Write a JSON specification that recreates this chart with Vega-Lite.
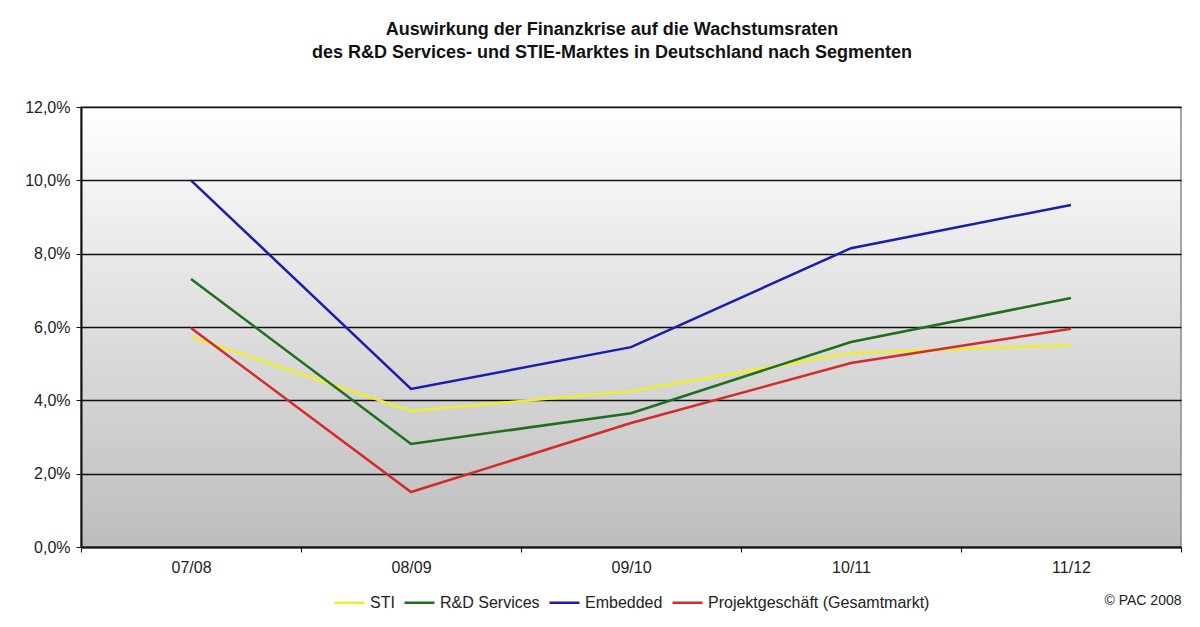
{
  "$schema": "https://vega.github.io/schema/vega-lite/v6.json",
  "width": 1100,
  "height": 440,
  "autosize": {"type": "none"},
  "padding": {"left": 81, "top": 107, "right": 19, "bottom": 80},
  "background": "white",
  "title": {
    "text": ["Auswirkung der Finanzkrise auf die Wachstumsraten", "des R&D Services- und STIE-Marktes in Deutschland nach Segmenten"],
    "font": "Liberation Sans",
    "fontSize": 18,
    "fontWeight": "bold",
    "color": "#111111",
    "lineHeight": 23,
    "offset": 37,
    "dx": -19,
    "anchor": "middle"
  },
  "config": {
    "font": "Liberation Sans",
    "view": {
      "stroke": "#8a8a8a",
      "strokeWidth": 1.5,
      "fill": {
        "gradient": "linear",
        "x1": 0, "y1": 0, "x2": 0, "y2": 1,
        "stops": [
          {"offset": 0, "color": "#ffffff"},
          {"offset": 1, "color": "#bdbdbd"}
        ]
      }
    }
  },
  "data": {
    "values": [
      {"period": "07/08", "segment": "STI", "rate": 5.73},
      {"period": "08/09", "segment": "STI", "rate": 3.71},
      {"period": "09/10", "segment": "STI", "rate": 4.25},
      {"period": "10/11", "segment": "STI", "rate": 5.29},
      {"period": "11/12", "segment": "STI", "rate": 5.51},
      {"period": "07/08", "segment": "R&D Services", "rate": 7.31},
      {"period": "08/09", "segment": "R&D Services", "rate": 2.81},
      {"period": "09/10", "segment": "R&D Services", "rate": 3.65},
      {"period": "10/11", "segment": "R&D Services", "rate": 5.59},
      {"period": "11/12", "segment": "R&D Services", "rate": 6.79},
      {"period": "07/08", "segment": "Embedded", "rate": 10.0},
      {"period": "08/09", "segment": "Embedded", "rate": 4.31},
      {"period": "09/10", "segment": "Embedded", "rate": 5.45},
      {"period": "10/11", "segment": "Embedded", "rate": 8.15},
      {"period": "11/12", "segment": "Embedded", "rate": 9.33},
      {"period": "07/08", "segment": "Projektgeschäft (Gesamtmarkt)", "rate": 5.97},
      {"period": "08/09", "segment": "Projektgeschäft (Gesamtmarkt)", "rate": 1.5},
      {"period": "09/10", "segment": "Projektgeschäft (Gesamtmarkt)", "rate": 3.38},
      {"period": "10/11", "segment": "Projektgeschäft (Gesamtmarkt)", "rate": 5.02},
      {"period": "11/12", "segment": "Projektgeschäft (Gesamtmarkt)", "rate": 5.95}
    ]
  },
  "mark": {"type": "line", "strokeWidth": 2.5},
  "encoding": {
    "x": {
      "field": "period",
      "type": "nominal",
      "sort": ["07/08", "08/09", "09/10", "10/11", "11/12"],
      "scale": {"type": "band", "paddingInner": 0, "paddingOuter": 0},
      "axis": {
        "title": "© PAC 2008",
        "titleFont": "Liberation Sans",
        "titleFontSize": 14,
        "titleFontWeight": "normal",
        "titleColor": "#222222",
        "titleAnchor": "end",
        "titleAlign": "right",
        "titlePadding": 18,
        "labelAngle": 0,
        "labelFontSize": 16,
        "labelColor": "#222222",
        "labelPadding": 7,
        "tickBand": "extent",
        "tickColor": "#111111",
        "tickSize": 5,
        "domainColor": "#111111",
        "domainWidth": 2,
        "grid": false
      }
    },
    "y": {
      "field": "rate",
      "type": "quantitative",
      "scale": {"domain": [0, 12], "nice": false},
      "axis": {
        "title": null,
        "values": [0, 2, 4, 6, 8, 10, 12],
        "labelExpr": "replace(format(datum.value, '.1f'), '.', ',') + '%'",
        "labelFontSize": 16,
        "labelColor": "#222222",
        "labelPadding": 6,
        "tickSize": 5,
        "tickColor": "#111111",
        "domainColor": "#111111",
        "domainWidth": 2,
        "grid": true,
        "gridColor": "#111111",
        "gridWidth": 1.5
      }
    },
    "color": {
      "field": "segment",
      "type": "nominal",
      "sort": ["STI", "R&D Services", "Embedded", "Projektgeschäft (Gesamtmarkt)"],
      "scale": {
        "domain": ["STI", "R&D Services", "Embedded", "Projektgeschäft (Gesamtmarkt)"],
        "range": ["#eeee30", "#1e6e1e", "#1c1cb0", "#d42a2a"]
      },
      "legend": {
        "title": null,
        "orient": "none",
        "direction": "horizontal",
        "legendX": 252,
        "legendY": 479,
        "symbolType": "stroke",
        "symbolSize": 900,
        "symbolStrokeWidth": 2.5,
        "labelFontSize": 16,
        "labelLimit": 400,
        "labelColor": "#222222",
        "labelOffset": 4,
        "columnPadding": 4
      }
    }
  }
}
